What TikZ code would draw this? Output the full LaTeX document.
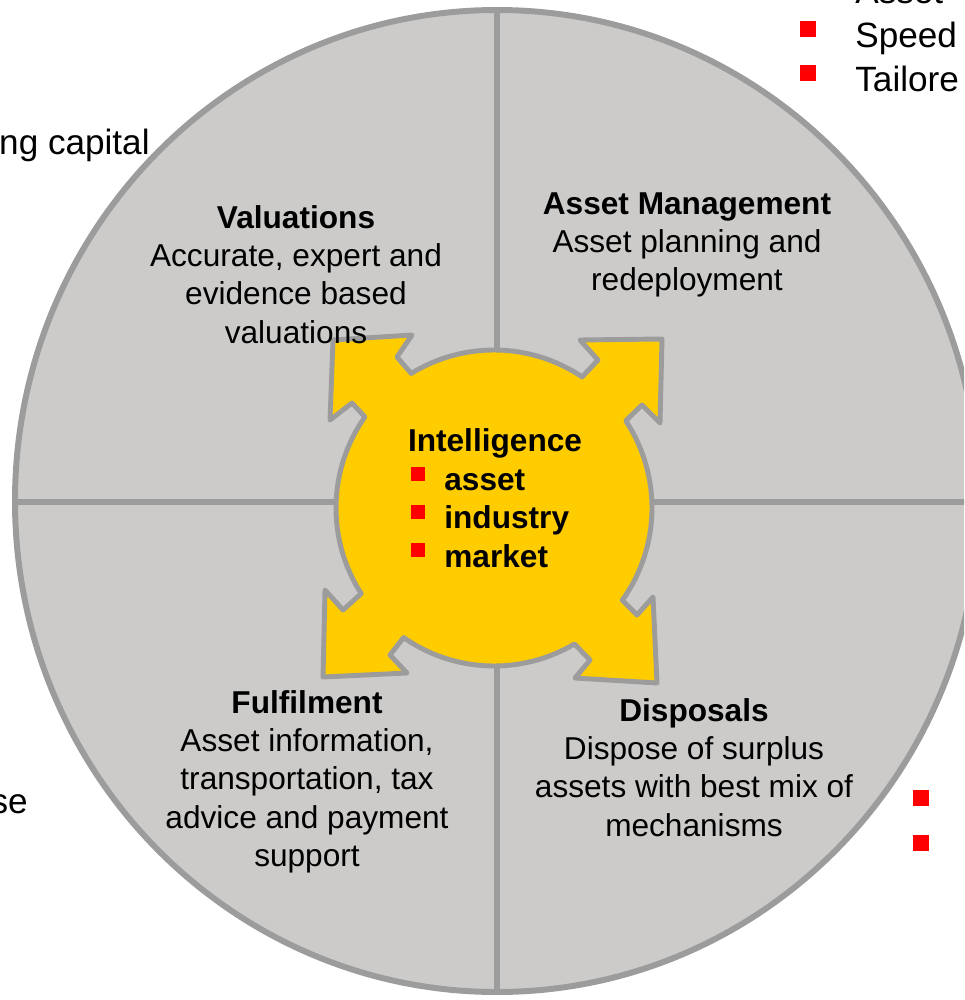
\documentclass[tikz,border=0pt]{standalone}
\usepackage{fontspec}
\setmainfont{Liberation Sans}
\usetikzlibrary{calc}
\definecolor{wheelgray}{RGB}{204,203,202}
\definecolor{rimgray}{RGB}{156,156,156}
\definecolor{hubyellow}{RGB}{255,204,0}
\definecolor{myred}{RGB}{255,0,0}

\begin{document}
\begin{tikzpicture}[x=0.02cm, y=-0.02cm,
    quarter/.style={anchor=north, align=center, inner sep=0pt, font=\fontsize{18}{21.8}\selectfont},
    hubitem/.style={anchor=base west, inner sep=0pt, font=\fontsize{18}{21.8}\selectfont\bfseries},
    side/.style={anchor=base west, inner sep=0pt, font=\fontsize{20}{25}\selectfont},
    smallsq/.style={fill=myred, inner sep=0pt, minimum size=8pt},
    bigsq/.style={fill=myred, inner sep=0pt, minimum size=9.6pt},
    rim/.style={draw=rimgray, line width=3.4pt}]
    \useasboundingbox (0, 0) rectangle (964, 1000);
    \clip (0, 0) rectangle (964, 1000);

    % Wheel split into four quarters
    \begin{scope}
        \coordinate (wc) at (497, 501);
        \coordinate (wn) at (497, 10);
        \coordinate (ws) at (497, 992);
        \coordinate (ww) at (15, 502);
        \coordinate (we) at (979, 502);
        \fill[wheelgray] (wc) ellipse[x radius=482, y radius=491];
        \draw[rim] (wn) -- (ws);
        \draw[rim] (ww) -- (we);
        \draw[rim] (wc) ellipse[x radius=482, y radius=491];
    \end{scope}

    % Intelligence hub with its four corner arrows
    \begin{scope}
        \coordinate (hc) at (494, 508);
        \foreach \nm/\ang in {tla/215.2, tlb/238.4, tra/303.9, trb/326.5,
                              bra/35.7, brb/59.4, bla/124.9, blb/147.2}
            \path (hc) ++(\ang:158) coordinate (\nm);
        \draw[fill=hubyellow, draw=rimgray, line width=2.8pt, line join=round]
            (tla) -- (352, 403) -- (330, 420) -- (333, 340) -- (412, 335) -- (397, 357) -- (tlb)
            arc[start angle=238.4, end angle=303.9, radius=158]
            -- (598, 360) -- (580, 340) -- (662, 339) -- (660, 423) -- (642, 405) -- (trb)
            arc[start angle=326.5, end angle=395.7, radius=158]
            -- (637, 615) -- (653, 597) -- (657, 683) -- (575, 678) -- (590, 660) -- (brb)
            arc[start angle=59.4, end angle=124.9, radius=158]
            -- (390, 655) -- (407, 673) -- (323, 677) -- (325, 590) -- (343, 610) -- (blb)
            arc[start angle=147.2, end angle=215.2, radius=158] -- cycle;

        \node[hubitem, anchor=base] (intel) at (495, 451) {Intelligence};
        \node[hubitem] (asset) at (444, 490) {asset};
        \node[hubitem] (industry) at (444, 528) {industry};
        \node[hubitem] (market) at (444, 567) {market};
        \node[smallsq] (sqasset) at (418, 474) {};
        \node[smallsq] (sqindustry) at (418, 512) {};
        \node[smallsq] (sqmarket) at (418, 550) {};
    \end{scope}

    % Quarter captions
    \node[quarter] (valuations) at (296, 205)
        {\textbf{Valuations}\\Accurate, expert and\\evidence based\\valuations};
    \node[quarter] (assetmgmt) at (687, 192)
        {\textbf{Asset Management}\\Asset planning and\\redeployment};
    \node[quarter] (fulfilment) at (307, 690)
        {\textbf{Fulfilment}\\Asset information,\\transportation, tax\\advice and payment\\support};
    \node[quarter] (disposals) at (694, 698)
        {\textbf{Disposals}\\Dispose of surplus\\assets with best mix of\\mechanisms};

    % Text cut off by the picture edges
    \node[side, anchor=base east] (capital) at (150, 155) {ng capital};
    \node[side, anchor=base east] (leftse) at (28, 813) {se};
    \node[side] (topasset) at (855, 4) {Asset};
    \node[side] (speed) at (855, 48) {Speed};
    \node[side] (tailored) at (855, 92) {Tailore};
    \node[bigsq] (sqspeed) at (808, 29) {};
    \node[bigsq] (sqtailored) at (808, 73) {};
    \node[bigsq] (sqright1) at (921, 798) {};
    \node[bigsq] (sqright2) at (921, 843) {};
\end{tikzpicture}
\end{document}
